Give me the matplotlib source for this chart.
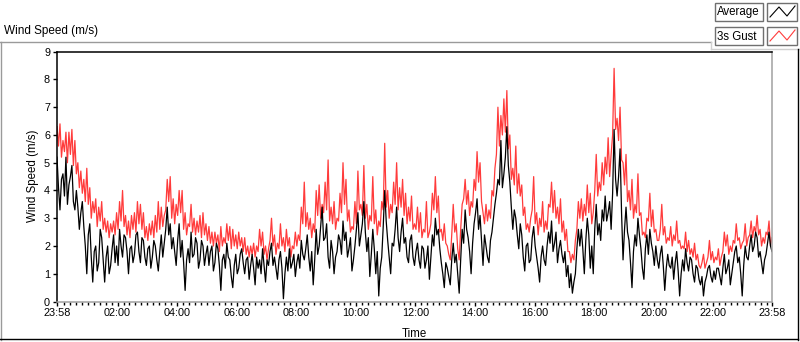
import matplotlib
matplotlib.use("Agg")
import matplotlib.pyplot as plt
import numpy as np
from matplotlib.lines import Line2D
from matplotlib.patches import Rectangle

# samples every 3 minutes, starting 23:58
sample_minutes = 3

average = [
    5.2, 4.1, 3.3, 4.4, 4.6, 3.8, 5.2, 3.5, 4.2, 4.5, 4.9, 3.6, 3.3, 4.0, 3.4, 2.6, 3.2, 3.6, 2.7, 2.0,
    1.0, 2.4, 2.8, 1.6, 0.7, 1.8, 2.0, 1.1, 1.4, 2.6, 2.3, 1.5, 0.7, 1.6, 2.0, 1.0, 1.3, 1.9, 2.4, 1.4,
    2.0, 1.3, 2.6, 2.0, 1.6, 2.4, 2.3, 1.8, 1.0, 1.9, 2.0, 1.4, 1.7, 2.4, 2.5, 1.8, 1.4, 2.3, 2.2, 1.6,
    1.3, 1.9, 2.0, 1.2, 1.6, 2.2, 2.0, 1.5, 1.1, 1.8, 2.4, 1.6, 2.1, 2.6, 3.4, 2.4, 2.8, 1.9, 2.3, 1.8,
    1.3, 2.2, 2.8, 1.6, 2.2, 1.4, 0.4, 1.5, 1.9, 1.4, 2.5, 1.6, 1.7, 2.3, 2.1, 1.2, 1.5, 2.2, 2.0, 1.3,
    1.7, 2.0, 1.3, 1.8, 2.0, 1.1, 1.4, 2.1, 1.9, 1.3, 0.4, 1.5, 1.7, 1.2, 2.1, 1.6, 1.5, 0.9, 0.5, 1.3,
    1.7, 1.0, 1.2, 1.7, 1.9, 1.4, 1.0, 1.5, 1.6, 0.8, 1.3, 1.7, 1.2, 0.6, 1.6, 1.2, 1.5, 1.0, 1.9, 1.3,
    0.7, 1.5, 1.3, 1.8, 2.1, 1.3, 1.6, 1.2, 0.8, 1.5, 1.8, 1.2, 0.1, 1.0, 1.6, 1.1, 1.9, 1.2, 1.4, 1.7,
    0.9, 1.4, 1.7, 1.2, 2.2, 1.7, 1.5, 1.9, 2.4, 1.6, 1.1, 1.8, 0.6, 1.5, 2.6, 1.7, 2.0, 2.7, 3.4, 2.2,
    2.3, 2.8, 1.6, 1.2, 2.2, 1.8, 1.0, 1.6, 1.8, 2.4, 2.2, 1.7, 2.9, 2.2, 2.5, 1.6, 1.9, 2.3, 1.1, 1.5,
    2.0, 2.6, 3.2, 2.0, 2.4, 2.8, 3.6, 2.5, 1.8, 2.3, 0.9, 1.7, 2.6, 1.9, 1.0, 1.8, 0.2, 1.2, 1.6, 2.7,
    4.0, 2.9, 2.2, 1.6, 1.0, 2.1, 2.0, 2.6, 3.4, 2.3, 1.8, 2.5, 3.0, 2.1, 2.3, 1.6, 1.4, 2.2, 2.4, 1.6,
    1.3, 1.8, 2.1, 1.5, 1.2, 2.0, 1.9, 1.2, 1.5, 2.0, 0.8, 1.6, 2.4, 2.0, 3.0, 2.4, 2.6, 1.9, 1.4, 1.0,
    0.5, 1.4, 1.2, 0.9, 0.6, 1.5, 2.1, 1.4, 1.7, 1.0, 0.3, 1.5, 2.6, 2.1, 3.3, 2.6, 2.3, 1.8, 1.0, 2.1,
    2.8, 3.2, 3.7, 2.6, 3.1, 2.2, 1.3, 2.4, 2.0, 1.6, 1.4, 2.2, 2.5, 3.0, 3.5, 3.9, 4.4, 4.2, 5.8, 4.1,
    4.6, 5.2, 6.3, 4.9, 4.3, 3.4, 2.6, 3.3, 3.0, 2.4, 1.9, 2.8, 2.4, 1.6, 1.1, 2.0, 2.1, 1.4, 1.5, 2.3,
    2.7, 2.0, 1.6, 1.2, 0.7, 1.6, 2.0, 1.5, 1.3, 2.0, 2.5, 2.1, 2.9, 1.8, 2.1, 2.5, 1.4, 1.9, 2.2, 1.7,
    1.4, 1.8, 0.9, 1.3, 0.5, 1.0, 0.3, 0.7, 1.0, 1.9, 2.6, 2.0, 2.6, 1.9, 1.0, 2.2, 3.0, 2.4, 1.2, 2.0,
    1.0, 2.6, 3.5, 2.4, 2.8, 2.2, 3.3, 2.9, 3.8, 2.9, 3.2, 3.6, 2.6, 3.9, 6.2, 4.4, 3.8, 4.5, 5.5, 3.2,
    1.5, 2.6, 3.4, 2.5, 2.2, 1.4, 0.5, 1.8, 2.4, 2.0, 3.0, 2.4, 1.9, 1.2, 0.8, 1.9, 2.4, 1.7, 2.6, 2.1,
    1.8, 1.3, 2.0, 1.5, 1.2, 1.7, 2.0, 1.3, 0.4, 1.2, 1.7, 1.3, 1.2, 1.6, 0.8, 1.4, 1.8, 1.1, 0.2, 1.0,
    1.5, 1.1, 1.9, 1.4, 1.1, 1.6, 1.5, 1.0, 0.7, 1.3, 1.2, 0.8, 0.6, 0.9, 0.2, 0.7, 0.9, 1.2, 1.3, 0.9,
    0.7, 1.1, 0.8, 1.2, 1.2, 0.9, 0.6, 1.2, 1.7, 1.0, 1.2, 1.5, 0.6, 1.0, 1.4, 1.8, 2.0, 1.4, 1.6, 1.0,
    0.2, 1.3, 2.0, 1.6, 1.5, 2.0, 2.4, 1.8, 2.0, 2.5, 2.3, 1.6, 1.8, 1.4, 1.0, 1.5, 1.7, 2.1, 2.5, 2.0,
    1.8,
]

gust = [
    6.3, 5.6, 6.4, 5.2, 5.8, 5.4, 6.1, 5.0, 6.1, 5.3, 6.2, 4.9, 5.8, 4.6, 5.0, 4.1, 4.7, 3.9, 4.4, 3.6,
    4.8, 3.5, 4.1, 3.0, 3.6, 3.2, 3.7, 2.7, 3.4, 2.9, 3.6, 2.6, 3.0, 2.5, 2.9, 2.3, 2.8, 2.5, 2.9, 2.4,
    3.2, 2.6, 3.6, 2.9, 4.0, 2.7, 3.1, 2.4, 2.9, 2.3, 3.1, 2.6, 3.2, 2.5, 3.6, 2.8, 3.5, 2.6, 3.2, 2.3,
    2.7, 2.2, 2.8, 2.4, 2.9, 2.3, 3.1, 2.5, 3.6, 2.6, 3.4, 2.7, 3.1, 3.3, 4.4, 3.6, 4.5, 3.0, 3.7, 2.8,
    3.5, 3.1, 4.0, 3.2, 4.0, 2.6, 3.2, 2.4, 2.8, 2.7, 3.5, 2.5, 3.0, 2.4, 2.9, 2.5, 3.1, 2.3, 3.2, 2.4,
    2.8, 2.2, 2.7, 2.1, 2.5, 2.0, 2.5, 2.1, 2.4, 1.8, 2.7, 2.0, 2.3, 2.1, 2.8, 2.2, 2.7, 1.9, 2.6, 2.0,
    2.4, 1.9, 2.5, 2.0, 2.3, 1.8, 2.3, 1.7, 2.0, 1.6, 2.0, 1.7, 2.1, 1.6, 2.0, 1.8, 2.6, 2.0, 2.5, 1.7,
    2.0, 1.5, 1.9, 2.2, 3.0, 2.0, 2.4, 1.7, 2.1, 1.9, 2.8, 2.0, 2.3, 1.8, 2.6, 2.0, 2.3, 1.6, 2.0, 1.9,
    2.5, 2.0, 2.4, 2.2, 3.4, 2.8, 4.3, 2.7, 3.2, 2.6, 3.0, 2.3, 2.8, 2.5, 4.0, 3.1, 4.2, 3.0, 3.5, 3.2,
    4.3, 3.3, 5.1, 2.9, 3.4, 2.8, 3.6, 2.6, 3.0, 2.9, 3.9, 3.2, 5.0, 3.5, 4.4, 2.9, 3.3, 2.5, 2.7, 2.6,
    3.6, 2.8, 4.7, 3.3, 3.5, 3.1, 4.9, 3.0, 3.5, 2.6, 3.1, 2.9, 4.5, 2.8, 3.3, 2.4, 2.9, 2.7, 3.6, 3.3,
    5.7, 3.4, 4.0, 3.0, 3.5, 3.2, 4.3, 3.5, 5.0, 3.3, 4.1, 3.4, 4.4, 3.1, 3.9, 2.8, 3.4, 2.9, 3.8, 2.6,
    2.8, 2.6, 3.4, 2.5, 3.2, 2.3, 2.6, 2.5, 3.6, 2.3, 2.5, 2.8, 3.9, 3.3, 4.5, 3.2, 3.8, 2.5, 2.6, 2.2,
    2.8, 2.1, 2.0, 1.7, 1.5, 2.4, 3.5, 2.5, 2.8, 1.9, 1.5, 2.6, 3.5, 3.7, 4.4, 3.5, 4.0, 3.1, 3.6, 3.4,
    4.4, 4.0, 5.4, 4.3, 5.0, 3.6, 3.2, 2.8, 3.5, 2.9, 3.3, 3.0, 4.0, 3.8, 4.8, 5.3, 7.0, 5.6, 6.7, 6.0,
    7.3, 6.1, 7.6, 5.5, 6.0, 4.4, 4.8, 4.2, 5.6, 3.9, 4.6, 3.8, 4.2, 3.1, 3.4, 2.6, 2.8, 2.5, 3.0, 3.3,
    4.5, 2.8, 3.2, 2.4, 3.0, 2.7, 3.6, 2.5, 2.9, 2.6, 3.5, 3.4, 4.3, 3.2, 4.0, 3.0, 3.4, 2.8, 3.7, 2.5,
    2.9, 2.2, 2.6, 1.8, 1.8, 1.4, 1.7, 1.5, 2.2, 2.6, 3.6, 3.0, 3.7, 2.9, 3.5, 3.1, 4.2, 3.2, 3.9, 2.8,
    3.2, 4.0, 5.3, 3.8, 4.3, 4.0, 5.0, 4.2, 5.2, 4.6, 5.9, 4.5, 5.3, 6.0, 8.4, 6.2, 6.6, 5.8, 7.0, 5.1,
    5.0, 4.2, 5.3, 3.6, 4.0, 3.3, 4.4, 3.0, 3.5, 3.2, 4.6, 3.1, 3.2, 2.4, 2.5, 2.3, 3.0, 2.9, 3.9, 2.7,
    3.3, 2.5, 2.6, 2.2, 2.2, 2.6, 3.5, 2.4, 2.7, 2.1, 2.3, 2.2, 2.7, 2.0, 2.4, 2.2, 2.9, 2.1, 2.2, 1.9,
    2.0, 1.9, 2.5, 1.8, 2.2, 1.7, 1.9, 1.6, 2.1, 1.5, 1.7, 1.3, 1.2, 1.4, 1.7, 1.2, 1.4, 1.6, 2.2, 1.5,
    1.8, 1.4, 1.6, 1.5, 1.9, 1.3, 1.6, 1.8, 2.5, 2.0, 2.4, 1.7, 2.0, 1.8, 2.2, 2.1, 2.8, 2.2, 2.3, 1.9,
    2.1, 2.2, 2.8, 2.0, 2.3, 2.4, 2.9, 2.3, 2.7, 2.5, 3.1, 2.4, 2.6, 2.0, 2.3, 2.1, 2.5, 2.4, 2.9, 2.0,
    2.3,
]

tick_labels = ["23:58", "02:00", "04:00", "06:00", "08:00", "10:00",
               "12:00", "14:00", "16:00", "18:00", "20:00", "22:00", "23:58"]

W, H = 800, 342
plt.rcParams['font.family'] = ['Liberation Sans', 'DejaVu Sans']


def fx(x):
    return x / W


def fy(y):
    return 1 - y / H


fig = plt.figure(figsize=(8, 3.42), dpi=100)
fig.patch.set_facecolor('white')

ax = fig.add_axes([fx(57), fy(301.5), fx(772) - fx(57), fy(51.7) - fy(301.5)])

hours_gust = np.arange(len(gust)) * sample_minutes / 60.0
hours_avg = np.arange(len(average)) * sample_minutes / 60.0
ax.plot(hours_gust, gust, color='#ff3b3b', lw=0.9)
ax.plot(hours_avg, average, color='black', lw=0.9)

ax.set_xlim(0, 24)
ax.set_ylim(0, 9)

# hours since 23:58; 02:00 is 2h02m in
off = 2 / 60
major = [0] + [off + 2 * k for k in range(1, 12)] + [24]
ax.set_xticks(major)
ax.set_xticklabels(tick_labels)
minor = [off + 0.2 * k for k in range(1, 120) if k % 10 != 0]
ax.set_xticks(minor, minor=True)
ax.set_yticks(range(10))

ax.tick_params(axis='both', which='major', labelsize=7.8, length=3,
               width=1, color='black', pad=2)
ax.tick_params(axis='x', which='minor', length=2.2, width=1, color='black')

for side in ['left', 'top']:
    ax.spines[side].set_color('black')
    ax.spines[side].set_linewidth(1.1)
for side in ['right', 'bottom']:
    ax.spines[side].set_color('#a0a0a0')
    ax.spines[side].set_linewidth(1.1)

fig.text(fx(33), fy(176), 'Wind Speed (m/s)', rotation=90, ha='center',
         va='center', fontsize=8.3)
fig.text(fx(414), fy(334), 'Time', ha='center', va='center', fontsize=8.3)
fig.text(fx(4), fy(31), 'Wind Speed (m/s)', ha='left', va='center',
         fontsize=8.5)

# outer panel frame
gray = '#9a9a9a'
frame = [
    ((0, 711), (42, 42), gray),
    ((711, 711), (42, 49), '#d0d0d0'),
    ((711, 800), (49, 49), '#d0d0d0'),
    ((1, 1), (42, 340), gray),
    ((798, 798), (49, 340), 'black'),
    ((0, 798), (339, 339), 'black'),
]
for xs, ys, c in frame:
    fig.add_artist(Line2D([fx(v) for v in xs], [fy(v) for v in ys],
                          color=c, lw=1))

# legend
legend_rows = [("Average", 'black', 3), ("3s Gust", '#ff3b3b', 27)]
for name, color, top in legend_rows:
    fig.add_artist(Rectangle((fx(715), fy(top + 18)), fx(48), 18 / H,
                             facecolor='white', edgecolor='#707070', lw=1))
    fig.add_artist(Rectangle((fx(767), fy(top + 18)), fx(30), 18 / H,
                             facecolor='white', edgecolor='#707070', lw=1))
    fig.text(fx(717), fy(top + 9.5), name, ha='left', va='center',
             fontsize=8.3)
    zx = [770, 779, 787, 795]
    zy = [top + 14, top + 4, top + 13, top + 3]
    fig.add_artist(Line2D([fx(v) for v in zx], [fy(v) for v in zy],
                          color=color, lw=0.8))

fig.savefig("out.png", dpi=100)
